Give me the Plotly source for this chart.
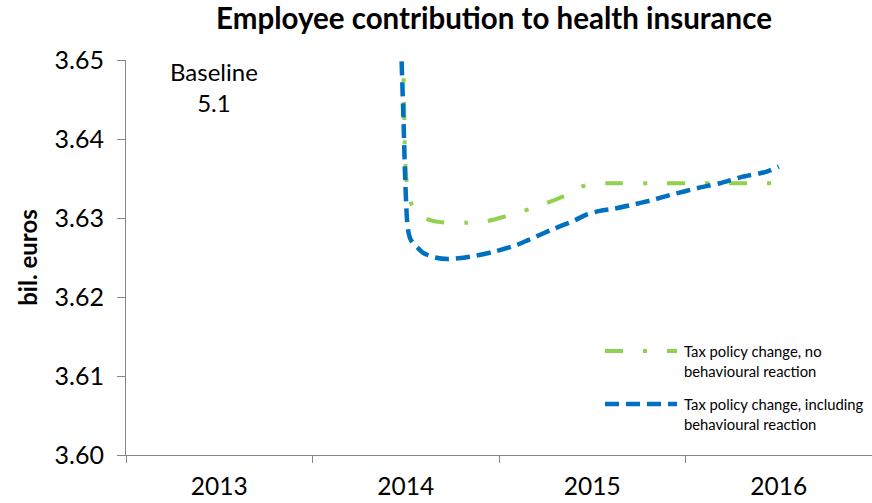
import plotly.graph_objects as go

# ---------------- data ----------------
years = [2013, 2014, 2015, 2016]
year_labels = ["2013", "2014", "2015", "2016"]
y_ticks = [3.60, 3.61, 3.62, 3.63, 3.64, 3.65]

# Curves: x = position on the year axis, y = bil. euros
no_reaction_x = [2013.983, 2013.991, 2013.996, 2014.005, 2014.015, 2014.034, 2014.093,
                 2014.151, 2014.216, 2014.328, 2014.436, 2014.548, 2014.661, 2014.757,
                 2014.870, 2014.934, 2014.988, 2015.079, 2015.309, 2015.685, 2016.000]
no_reaction_y = [3.6525, 3.6449, 3.6377, 3.6346, 3.6329, 3.6316, 3.6301,
                 3.6296, 3.6294, 3.6294, 3.6296, 3.6303, 3.6311, 3.6319,
                 3.6330, 3.6339, 3.6343, 3.6344, 3.6344, 3.6344, 3.6344]

with_reaction_x = [2013.974, 2013.988, 2013.996, 2014.005, 2014.012, 2014.028, 2014.093,
                   2014.157, 2014.227, 2014.345, 2014.468, 2014.597, 2014.656, 2014.790,
                   2014.897, 2014.975, 2015.040, 2015.120, 2015.202, 2015.326, 2015.417,
                   2015.567, 2015.685, 2015.803, 2015.926, 2016.000]
with_reaction_y = [3.6525, 3.6424, 3.6357, 3.6304, 3.6285, 3.6272, 3.6256,
                   3.6250, 3.6248, 3.6251, 3.6257, 3.6266, 3.6272, 3.6286,
                   3.6296, 3.6305, 3.6309, 3.6312, 3.6316, 3.6323, 3.6329,
                   3.6338, 3.6344, 3.6352, 3.6358, 3.6365]

name_no = ["Tax policy change, no", "behavioural reaction"]
name_with = ["Tax policy change, including", "behavioural reaction"]
annotation_text = "Baseline<br>5.1"

# ---------------- style ----------------
GREEN = "#92D050"
BLUE = "#0070C0"
GRAY = "#868686"
FONT = "Lato"
W, H = 872, 503
L, R, T, B = 126, 0, 60, 48


def px_x(px):
    return (px - L) / (W - L - R)


def px_y(py):
    return (H - B - py) / (H - T - B)


green_dash = "18px,20px,4px,20px"
blue_dash = "14px,7px"

fig = go.Figure()
fig.add_trace(go.Scatter(
    x=no_reaction_x, y=no_reaction_y, mode="lines",
    line=dict(color=GREEN, width=4, dash=green_dash, shape="spline", smoothing=0.6),
    name=" ".join(name_no), showlegend=False, hoverinfo="skip"))
fig.add_trace(go.Scatter(
    x=with_reaction_x, y=with_reaction_y, mode="lines",
    line=dict(color=BLUE, width=4.5, dash=blue_dash, shape="spline", smoothing=0.6),
    name=" ".join(name_with), showlegend=False, hoverinfo="skip"))

fig.update_layout(
    width=W, height=H,
    margin=dict(l=L, r=R, t=T, b=B, pad=0),
    paper_bgcolor="white", plot_bgcolor="white",
    font=dict(family=FONT, color="black"),
    title=dict(text="<b>Employee contribution to health insurance</b>",
               font=dict(size=29.5, family=FONT, color="black"),
               xref="container", x=494 / W, xanchor="center",
               yref="container", y=1 - 19 / H, yanchor="middle"),
    xaxis=dict(range=[2012.5, 2016.5], tickmode="array", tickvals=years, ticktext=year_labels,
               ticks="", showline=True, linecolor=GRAY, linewidth=1, showgrid=False,
               zeroline=False, tickfont=dict(size=24.5, family=FONT, color="black"),
               ticklabelstandoff=10,
               minor=dict(tickmode="array", tickvals=[2012.5, 2013.5, 2014.5, 2015.5, 2016.5],
                          ticks="outside", ticklen=7, tickcolor=GRAY, tickwidth=1, showgrid=False)),
    yaxis=dict(range=[3.60, 3.65], tickmode="array", tickvals=y_ticks,
               ticktext=[f"{v:.2f}" for v in y_ticks],
               ticks="outside", ticklen=8, tickcolor=GRAY, tickwidth=1,
               showline=True, linecolor=GRAY, linewidth=1, showgrid=False, zeroline=False,
               tickfont=dict(size=25, family=FONT, color="black"),
               ticklabelstandoff=8,
               title=dict(text="<b>bil. euros</b>", font=dict(size=24, family=FONT, color="black"),
                          standoff=10)),
)

fig.add_annotation(x=px_x(214), y=px_y(87), xref="paper", yref="paper",
                   xanchor="center", yanchor="middle",
                   text=annotation_text, showarrow=False, align="center",
                   font=dict(size=24, family=FONT, color="black"))

# legend (drawn manually to keep the long line samples)
legend_rows = [(GREEN, 4, green_dash, name_no, 351), (BLUE, 4.5, blue_dash, name_with, 404)]
for color, width, dash, lines, py in legend_rows:
    fig.add_shape(type="line", xref="paper", yref="paper",
                  x0=px_x(605), x1=px_x(677), y0=px_y(py), y1=px_y(py),
                  line=dict(color=color, width=width, dash=dash))
    for i, txt in enumerate(lines):
        fig.add_annotation(x=px_x(682), y=px_y(py + 20 * i), xref="paper", yref="paper",
                           text=txt, showarrow=False, xanchor="left", yanchor="middle",
                           font=dict(size=14.8, family=FONT, color="black"))

fig.write_html("out.html", config={"displayModeBar": False},
               post_script="document.body.style.margin='0';document.body.style.padding='0';")
